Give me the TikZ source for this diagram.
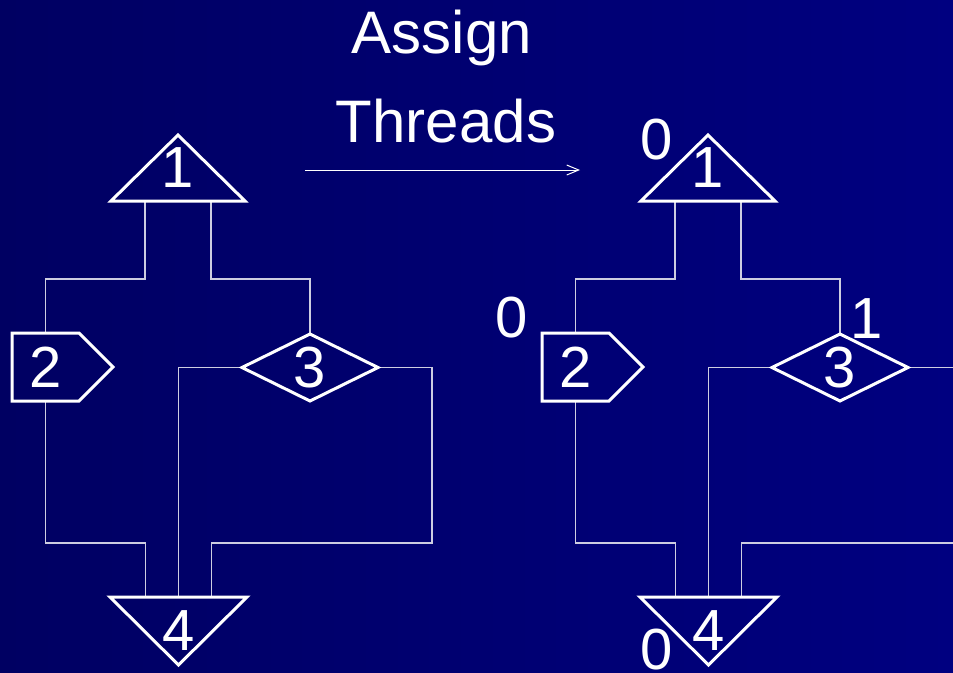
\documentclass[tikz,border=0pt]{standalone}
\usepackage{fontspec}
\setmainfont{Liberation Sans}
\usetikzlibrary{arrows.meta}
\definecolor{bgleft}{RGB}{0,0,98}
\definecolor{bgright}{RGB}{0,0,128}
\definecolor{wire}{RGB}{205,205,225}

% One control-flow graph: blocks 1 to 4 and the edges between them
\newcommand{\cfgraph}{%
  \node[shapebox, minimum width=134pt, minimum height=66pt] (t1) at (178,-168) {1};
  \node[shapebox, minimum width=67pt, minimum height=68pt] (p2) at (45.5,-367) {2};
  \node[shapebox, minimum width=136pt, minimum height=67pt] (d3) at (310,-367.5) {3};
  \node[shapebox, minimum width=137pt, minimum height=68pt] (t4) at (178.5,-631) {4};
  % edges
  \draw[wirestyle] ([xshift=-33pt]t1.south) -- ++(0,-78) -| (p2.north);
  \draw[wirestyle] ([xshift=33pt]t1.south) -- ++(0,-78) -| (d3.north);
  \draw[wirestyle] (d3.west) -| (t4.north);
  \draw[wirestyle] (d3.east) -- ++(54,0) -- ++(0,-175.5) -| ([xshift=33pt]t4.north);
  \draw[wirestyle] (p2.south) -- ++(0,-142) -| ([xshift=-33pt]t4.north);
  % block outlines
  \draw[outline] (t1.south west) -- (t1.north) -- (t1.south east) -- cycle;
  \draw[outline] (p2.north west) -- (p2.north east) -- ([xshift=34pt]p2.east)
                 -- (p2.south east) -- (p2.south west) -- cycle;
  \draw[outline] (d3.west) -- (d3.north) -- (d3.east) -- (d3.south) -- cycle;
  \draw[outline] (t4.north west) -- (t4.south) -- (t4.north east) -- cycle;
}

\begin{document}
\begin{tikzpicture}[x=1pt,y=1pt,
  shapebox/.style={inner sep=0pt, outer sep=0pt, text=white,
                   font=\fontsize{58}{60}\selectfont},
  outline/.style={draw=white, line width=3pt, line join=miter},
  wirestyle/.style={draw=wire, line width=1.3pt},
  tag/.style={text=white, inner sep=0pt, font=\fontsize{58}{60}\selectfont},
  heading/.style={text=white, inner sep=0pt, font=\fontsize{60}{62}\selectfont},
]
\useasboundingbox (0,0) rectangle (953,-672);
\clip (0,0) rectangle (953,-672);
\shade[left color=bgleft, right color=bgright] (0,0) rectangle (953,-672);

% graph before thread assignment
\begin{scope}[name prefix=a-]
  \cfgraph
\end{scope}

% graph after thread assignment
\begin{scope}[xshift=530pt, name prefix=b-]
  \cfgraph
  \node[tag] (b-th1) at (127,-140) {0};
  \node[tag] (b-th2) at (-18,-318) {0};
  \node[tag] (b-th3) at (337,-319) {1};
  \node[tag] (b-th4) at (127,-650) {0};
\end{scope}

% transformation label and arrow
\node[heading, anchor=base] (title1) at (442,-53) {Assign};
\node[heading, anchor=base] (title2) at (446,-142) {Threads};
\coordinate (go-from) at (305,-170);
\coordinate (go-to) at (580,-170);
\draw[white, line width=1pt, -{Straight Barb[length=12pt,width=10pt]}] (go-from) -- (go-to);
\end{tikzpicture}
\end{document}
